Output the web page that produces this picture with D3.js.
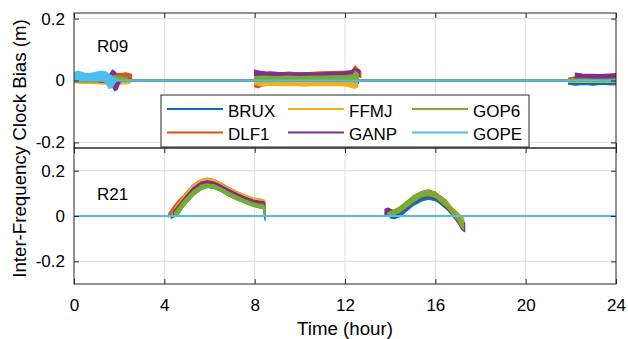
<!DOCTYPE html>
<html><head><meta charset="utf-8">
<script src="https://cdn.jsdelivr.net/npm/d3@7"></script>
<style>body{margin:0;background:#fff}svg{display:block;font-family:"Liberation Sans",Arial,Helvetica,sans-serif}</style>
</head><body><svg id="c" width="628" height="339"></svg>
<script>
// ---------- data ----------
const stations = ["BRUX", "DLF1", "FFMJ", "GANP", "GOP6", "GOPE"];
const colors = ["#0072BD", "#D95319", "#EDB120", "#7E2F8E", "#77AC30", "#4DBEEE"];
const xTicks = [0, 4, 8, 12, 16, 20, 24];
const yTicks = [-0.2, 0, 0.2];
const satellites = ["R09", "R21"];
const r09Domain = [-0.218, 0.218];
const r21Domain = [-0.3, 0.3];
const zeroSpan = [[0, 0], [24, 0]];
const xTitle = "Time (hour)";
const yTitle = "Inter-Frequency Clock Bias (m)";

// each trace: segments of [time (h), lower, upper] of the noisy band (m)
const r09_BRUX = [
  [[0.0,-0.006,0.008],[0.4,-0.005,0.01],[0.8,-0.007,0.009],[1.2,-0.006,0.011],[1.6,-0.012,0.01],[2.0,-0.006,0.012],[2.45,-0.005,0.01]],
  [[8.0,-0.01,0.004],[8.15,-0.022,0.003],[8.35,-0.018,0.002],[8.6,-0.008,0.003],[9.2,-0.006,0.004],[10,-0.007,0.003],[11,-0.006,0.004],[12,-0.008,0.003],[12.6,-0.009,0.004]],
  [[21.9,-0.012,0.0],[22.2,-0.015,-0.001],[22.6,-0.013,-0.002],[23.0,-0.015,-0.001],[23.4,-0.012,-0.002],[23.8,-0.014,-0.001],[24,-0.013,-0.002]]
];
const r09_DLF1 = [
  [[0.0,-0.004,0.01],[0.5,-0.003,0.012],[1.0,-0.004,0.011],[1.5,-0.006,0.015],[1.8,0.0,0.024],[2.05,0.004,0.022],[2.3,0.003,0.025],[2.55,0.004,0.02]],
  [[8.0,-0.02,0.028],[8.15,-0.024,0.03],[8.35,0.008,0.026],[8.7,0.012,0.028],[9.1,0.011,0.025],[9.5,0.013,0.027],[10,0.012,0.025],[10.5,0.012,0.026],[11,0.013,0.028],[11.5,0.014,0.029],[12,0.015,0.03],[12.3,0.016,0.032],[12.45,0.018,0.047],[12.6,0.014,0.036],[12.7,0.01,0.03]],
  [[21.9,-0.002,0.008],[22.2,0.0,0.012],[22.6,0.002,0.014],[23.0,0.001,0.013],[23.5,0.002,0.015],[24,0.002,0.016]]
];
const r09_FFMJ = [
  [[0.0,-0.008,0.002],[0.5,-0.009,0.003],[1.0,-0.01,0.002],[1.3,-0.012,0.002],[1.7,-0.01,0.004],[2.0,-0.012,0.0],[2.3,-0.011,0.0],[2.5,-0.008,0.0]],
  [[8.0,-0.012,-0.002],[8.3,-0.018,-0.003],[8.7,-0.015,-0.002],[9.2,-0.017,-0.003],[9.7,-0.016,-0.002],[10.2,-0.018,-0.003],[10.7,-0.016,-0.002],[11.2,-0.017,-0.003],[11.7,-0.016,-0.002],[12.1,-0.018,-0.003],[12.4,-0.025,-0.003],[12.55,-0.022,-0.002]],
  [[21.9,-0.006,0.003],[22.5,-0.005,0.004],[23.2,-0.006,0.003],[24,-0.005,0.004]]
];
const r09_GANP = [
  [[0.0,-0.004,0.006],[0.5,-0.003,0.007],[1.0,-0.004,0.008],[1.5,-0.008,0.012],[1.7,-0.02,0.034],[1.8,-0.033,0.03],[1.9,-0.03,0.015],[2.05,-0.004,0.012],[2.3,-0.002,0.01]],
  [[8.0,0.008,0.034],[8.2,0.012,0.03],[8.5,0.013,0.027],[8.9,0.012,0.026],[9.3,0.013,0.025],[9.8,0.012,0.024],[10.3,0.013,0.025],[10.8,0.012,0.024],[11.3,0.013,0.026],[11.8,0.014,0.027],[12.2,0.015,0.029],[12.45,0.016,0.038],[12.65,0.012,0.034]],
  [[22.2,0.004,0.024],[22.5,0.005,0.021],[22.9,0.004,0.02],[23.3,0.005,0.019],[23.7,0.006,0.021],[24,0.005,0.022]]
];
const r09_GOP6 = [
  [[0.0,-0.003,0.007],[0.5,-0.001,0.009],[1.0,-0.002,0.008],[1.4,0.0,0.01],[1.8,0.0,0.016],[2.1,0.001,0.013],[2.35,0.0,0.01]],
  [[8.0,0.0,0.013],[8.5,0.001,0.014],[9.0,0.0,0.013],[9.5,0.001,0.014],[10,0.0,0.013],[10.5,0.001,0.014],[11,0.0,0.014],[11.5,0.001,0.015],[12,0.001,0.016],[12.35,0.0,0.018],[12.45,-0.006,0.03],[12.6,0.0,0.022]],
  [[21.9,-0.004,0.004],[22.5,-0.003,0.005],[23.3,-0.004,0.004],[24,-0.003,0.005]]
];
const r09_GOPE = [
  [[0.0,-0.004,0.026],[0.2,-0.002,0.03],[0.45,0.001,0.024],[0.7,0.0,0.022],[0.95,0.002,0.026],[1.2,0.0,0.03],[1.4,-0.006,0.028],[1.55,-0.026,0.02],[1.7,-0.022,0.012],[1.85,-0.004,0.006]]
];

const r21_BRUX = [
  [[4.3,-0.01,0.01],[4.6,0.005,0.03],[4.84,0.04,0.065],[5.28,0.09,0.112],[5.6,0.115,0.135],[5.9,0.126,0.142],[6.2,0.122,0.138],[6.47,0.11,0.126],[6.8,0.092,0.108],[7.2,0.072,0.088],[7.6,0.055,0.07],[7.94,0.043,0.058],[8.2,0.037,0.052],[8.38,0.035,0.05],[8.46,-0.018,0.04]],
  [[14.0,-0.008,0.012],[14.2,-0.012,0.015],[14.44,-0.002,0.022],[15.03,0.047,0.068],[15.4,0.066,0.085],[15.69,0.074,0.092],[16.0,0.068,0.088],[16.2,0.055,0.075],[16.5,0.03,0.05],[16.73,0.005,0.028],[17.0,-0.025,0.0],[17.17,-0.045,-0.02],[17.25,-0.05,-0.02]]
];
const r21_DLF1 = [
  [[4.2,-0.004,0.012],[4.4,0.012,0.04],[4.6,0.035,0.066],[4.84,0.065,0.09],[5.28,0.113,0.139],[5.6,0.137,0.16],[5.9,0.145,0.167],[6.2,0.14,0.161],[6.47,0.127,0.148],[6.8,0.108,0.129],[7.2,0.089,0.108],[7.6,0.073,0.091],[7.94,0.061,0.079],[8.2,0.056,0.075],[8.38,0.053,0.072],[8.45,0.01,0.066]],
  [[14.0,0.0,0.015],[14.44,0.02,0.04],[15.03,0.065,0.088],[15.4,0.09,0.108],[15.69,0.095,0.116],[16.0,0.088,0.106],[16.2,0.07,0.09],[16.5,0.045,0.068],[16.73,0.018,0.038],[17.0,-0.012,0.015],[17.17,-0.035,-0.005],[17.25,-0.04,-0.01]]
];
const r21_FFMJ = [
  [[4.35,-0.002,0.014],[4.5,0.014,0.04],[4.84,0.058,0.086],[5.28,0.11,0.137],[5.6,0.135,0.159],[5.9,0.143,0.165],[6.2,0.138,0.16],[6.47,0.126,0.146],[6.8,0.107,0.127],[7.2,0.087,0.107],[7.6,0.071,0.09],[7.94,0.06,0.078],[8.2,0.055,0.075],[8.38,0.052,0.072],[8.45,0.005,0.068]],
  [[14.0,0.0,0.014],[14.44,0.016,0.036],[15.03,0.06,0.084],[15.4,0.086,0.104],[15.69,0.09,0.11],[16.0,0.083,0.102],[16.2,0.066,0.086],[16.5,0.042,0.064],[16.73,0.015,0.035],[17.0,-0.015,0.01],[17.17,-0.04,-0.008],[17.25,-0.045,-0.012]]
];
const r21_GANP = [
  [[4.4,0.0,0.02],[4.6,0.02,0.045],[4.84,0.05,0.075],[5.28,0.1,0.125],[5.6,0.125,0.148],[5.9,0.135,0.155],[6.2,0.13,0.15],[6.47,0.118,0.138],[6.8,0.1,0.12],[7.2,0.08,0.1],[7.6,0.063,0.082],[7.94,0.052,0.07],[8.2,0.047,0.066],[8.38,0.045,0.064],[8.45,0.01,0.06]],
  [[13.77,0.0,0.03],[13.9,0.005,0.035],[14.1,0.0,0.025],[14.44,0.012,0.035],[15.03,0.058,0.08],[15.4,0.08,0.1],[15.69,0.085,0.105],[16.0,0.077,0.097],[16.2,0.06,0.08],[16.5,0.035,0.055],[16.73,0.005,0.03],[17.0,-0.03,0.0],[17.17,-0.06,-0.025],[17.3,-0.069,-0.03]]
];
const r21_GOP6 = [
  [[4.45,-0.002,0.015],[4.6,0.005,0.035],[4.84,0.04,0.065],[5.28,0.09,0.112],[5.6,0.115,0.135],[5.9,0.127,0.142],[6.2,0.122,0.138],[6.47,0.11,0.126],[6.8,0.092,0.108],[7.2,0.072,0.088],[7.6,0.055,0.07],[7.94,0.042,0.058],[8.2,0.036,0.052],[8.38,0.033,0.05],[8.45,0.0,0.04]],
  [[13.9,0.0,0.015],[14.1,0.002,0.022],[14.44,0.018,0.042],[15.03,0.062,0.09],[15.4,0.085,0.108],[15.69,0.09,0.112],[16.0,0.082,0.102],[16.2,0.065,0.085],[16.5,0.04,0.06],[16.73,0.01,0.033],[17.0,-0.022,0.005],[17.17,-0.052,-0.015],[17.25,-0.06,-0.02]]
];
const r21_GOPE = [];

// ---------- layout ----------
const W = 628, H = 339;
const L = 74, R = 616;
const panels = [
  { name: satellites[0], traces: [r09_BRUX, r09_DLF1, r09_FFMJ, r09_GANP, r09_GOP6, r09_GOPE], domain: r09Domain, top: 13, bottom: 148, labelY: 52, xLabels: false },
  { name: satellites[1], traces: [r21_BRUX, r21_DLF1, r21_FFMJ, r21_GANP, r21_GOP6, r21_GOPE], domain: r21Domain, top: 148, bottom: 284, labelY: 200, xLabels: true }
];
const AX = "#262626", GRID = "#dfdfdf", TICK_FS = 17, LAB_FS = 18.7;

const svg = d3.select("#c");
svg.append("rect").attr("width", W).attr("height", H).attr("fill", "#fff");
const x = d3.scaleLinear().domain([0, 24]).range([L, R]);
const fmt = d => String(d);

panels.forEach((p, pi) => {
  const y = d3.scaleLinear().domain(p.domain).range([p.bottom, p.top]);
  const g = svg.append("g");
  const clipId = "clip" + pi;
  svg.append("clipPath").attr("id", clipId).append("rect")
    .attr("x", L).attr("y", p.top).attr("width", R - L).attr("height", p.bottom - p.top);

  // grid
  g.selectAll(".vg").data(xTicks.filter(t => t > 0 && t < 24)).join("line")
    .attr("x1", d => x(d)).attr("x2", d => x(d)).attr("y1", p.top).attr("y2", p.bottom)
    .attr("stroke", GRID).attr("stroke-width", 1);
  g.selectAll(".hg").data(yTicks).join("line")
    .attr("y1", d => y(d)).attr("y2", d => y(d)).attr("x1", L).attr("x2", R)
    .attr("stroke", GRID).attr("stroke-width", 1);

  // data
  const dg = g.append("g").attr("clip-path", `url(#${clipId})`);
  const area = d3.area().x(d => x(d[0])).y0(d => y(d[1])).y1(d => y(d[2]));
  const line = d3.line().x(d => x(d[0])).y(d => y(d[1]));
  p.traces.forEach((segs, si) => {
    segs.forEach(seg => {
      dg.append("path").attr("d", area(seg)).attr("fill", colors[si])
        .attr("stroke", colors[si]).attr("stroke-width", 1.2).attr("stroke-linejoin", "round");
    });
    dg.append("path").attr("d", line(zeroSpan)).attr("fill", "none")
      .attr("stroke", colors[si]).attr("stroke-width", 2);
  });

  // axes (ticks inside)
  const left = d3.axisLeft(y).tickValues(yTicks).tickSizeInner(-5).tickSizeOuter(0).tickPadding(9).tickFormat(fmt);
  const right = d3.axisRight(y).tickValues(yTicks).tickSizeInner(-5).tickSizeOuter(0).tickFormat("");
  const bottom = d3.axisBottom(x).tickValues(xTicks).tickSizeInner(-5).tickSizeOuter(0).tickPadding(15).tickFormat(p.xLabels ? fmt : "");
  const topA = d3.axisTop(x).tickValues(xTicks).tickSizeInner(-5).tickSizeOuter(0).tickFormat("");
  const styleAxis = sel => {
    sel.select(".domain").remove();
    sel.selectAll(".tick line").attr("stroke", AX).attr("stroke-width", 1);
    sel.selectAll(".tick text").attr("fill", "#000").attr("font-size", TICK_FS).attr("font-family", null);
    sel.attr("font-family", null);
  };
  g.append("g").attr("transform", `translate(${L},0)`).call(left).call(styleAxis);
  g.append("g").attr("transform", `translate(${R},0)`).call(right).call(styleAxis);
  g.append("g").attr("transform", `translate(0,${p.bottom})`).call(bottom).call(styleAxis);
  g.append("g").attr("transform", `translate(0,${p.top})`).call(topA).call(styleAxis);

  // box
  g.append("rect").attr("x", L).attr("y", p.top).attr("width", R - L).attr("height", p.bottom - p.top)
    .attr("fill", "none").attr("stroke", AX).attr("stroke-width", 1);

  // satellite label
  g.append("text").attr("x", 97).attr("y", p.labelY).attr("font-size", TICK_FS).attr("fill", "#000").text(p.name);
});

// legend
const lg = svg.append("g");
lg.append("rect").attr("x", 161).attr("y", 95).attr("width", 368).attr("height", 52)
  .attr("fill", "#fff").attr("stroke", AX).attr("stroke-width", 1);
const colX = [167, 288, 412], rowY = [109, 132.5];
stations.forEach((s, i) => {
  const cx = colX[Math.floor(i / 2)], cy = rowY[i % 2];
  lg.append("line").attr("x1", cx).attr("x2", cx + 56).attr("y1", cy).attr("y2", cy)
    .attr("stroke", colors[i]).attr("stroke-width", 2);
  lg.append("text").attr("x", cx + 61).attr("y", cy + 7.5).attr("font-size", TICK_FS).attr("fill", "#000").text(s);
});

// axis titles
svg.append("text").attr("x", (L + R) / 2).attr("y", 335).attr("text-anchor", "middle")
  .attr("font-size", LAB_FS).attr("fill", "#000").text(xTitle);
svg.append("text").attr("transform", `translate(26,${(13 + 284) / 2}) rotate(-90)`).attr("text-anchor", "middle")
  .attr("font-size", LAB_FS).attr("fill", "#000").text(yTitle);
</script></body></html>
